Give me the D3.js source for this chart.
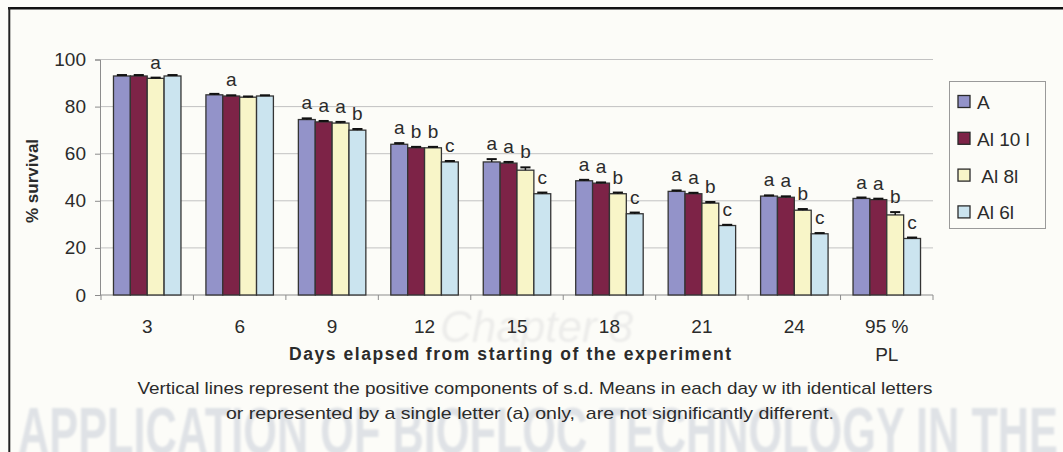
<!DOCTYPE html>
<html>
<head>
<meta charset="utf-8">
<script src="https://cdn.jsdelivr.net/npm/d3@7"></script>
<style>
  html, body { margin: 0; padding: 0; background: #fcfcf8; }
  svg { display: block; }
  text { font-family: "Liberation Sans", Arial, sans-serif; }
</style>
</head>
<body>
<svg id="chart" width="1063" height="452"></svg>
<script>
// Survival (%) of four treatments sampled every three days, plus the 95 % PL stage
const categories = ["3", "6", "9", "12", "15", "18", "21", "24", "95% PL"];
const tickLabels = [["3"], ["6"], ["9"], ["12"], ["15"], ["18"], ["21"], ["24"], ["95 %", "PL"]];
const seriesNames = ["A", "Al 10 l", " Al 8l", "Al 6l"];

const valuesA    = [93, 85, 74.5, 64, 56.5, 48.5, 44, 42, 41];
const valuesAl10 = [93, 84.5, 73.5, 62.5, 56, 47.5, 43, 41.5, 40.5];
const valuesAl8  = [92, 84, 73, 62.5, 53, 43, 39, 36, 34];
const valuesAl6  = [93, 84.5, 70, 56.5, 43, 34.5, 29.5, 26, 24];

// positive component of the standard deviation
const sdA    = [0.4, 0.4, 0.5, 0.5, 1.2, 0.4, 0.4, 0.3, 0.4];
const sdAl10 = [0.4, 0.3, 0.4, 0.4, 0.5, 0.3, 0.4, 0.4, 0.4];
const sdAl8  = [0.3, 0.3, 0.5, 0.4, 1.2, 0.5, 0.5, 0.5, 1.2];
const sdAl6  = [0.4, 0.3, 0.5, 0.4, 0.5, 0.5, 0.3, 0.3, 0.4];

// significance letters per bar ("" = none shown)
const lettersA    = ["", "", "a", "a", "a", "a", "a", "a", "a"];
const lettersAl10 = ["", "a", "a", "b", "a", "a", "a", "a", "a"];
const lettersAl8  = ["a", "", "a", "b", "b", "b", "b", "b", "b"];
const lettersAl6  = ["", "", "b", "c", "c", "c", "c", "c", "c"];

const yTicks = [0, 20, 40, 60, 80, 100];

const xTitle = "Days elapsed from starting of the experiment";
const yTitle = "% survival";
const noteLines = [
  "Vertical lines represent the positive components of s.d. Means in each day w ith identical letters",
  "or represented by a single letter (a) only,  are not significantly different."
];

const fills = ["#9393c9", "#7d2347", "#f8f5c8", "#cbe4ef"];

const series = seriesNames.map((name, i) => ({
  name,
  values: [valuesA, valuesAl10, valuesAl8, valuesAl6][i],
  sd: [sdA, sdAl10, sdAl8, sdAl6][i],
  letters: [lettersA, lettersAl10, lettersAl8, lettersAl6][i],
  fill: fills[i]
}));

const svg = d3.select("#chart");
const ink = "#2b2b2b";

// soft blur for the show-through of the facing page
svg.append("defs").append("filter").attr("id", "soft")
  .append("feGaussianBlur").attr("stdDeviation", 1.3);

svg.append("text")
  .attr("x", 440).attr("y", 342)
  .attr("font-family", "DejaVu Serif, serif")
  .attr("font-style", "italic")
  .attr("font-size", 44)
  .attr("fill", "#ececea")
  .attr("filter", "url(#soft)")
  .text("Chapter 8");
svg.append("text")
  .attr("x", 18).attr("y", 454)
  .attr("font-family", "'DejaVu Sans Condensed', 'Liberation Sans Narrow', sans-serif")
  .attr("font-weight", "bold")
  .attr("font-size", 66)
  .attr("fill", "#dfe2e6")
  .attr("filter", "url(#soft)")
  .attr("textLength", 1040)
  .attr("lengthAdjust", "spacingAndGlyphs")
  .text("APPLICATION OF BIOFLOC TECHNOLOGY IN THE");

// frame around the figure
svg.append("line").attr("x1", 8).attr("x2", 1063).attr("y1", 8.2).attr("y2", 8.2)
  .attr("stroke", "#111").attr("stroke-width", 2.6);
svg.append("line").attr("x1", 9.3).attr("x2", 9.3).attr("y1", 7).attr("y2", 452)
  .attr("stroke", "#222").attr("stroke-width", 2);

// scales
const plotLeft = 100, plotRight = 933;
const x0 = d3.scaleBand().domain(categories).range([plotLeft + 1, plotRight])
  .paddingInner(0.27).paddingOuter(0.135);
const x1 = d3.scaleBand().domain(d3.range(series.length)).range([0, x0.bandwidth()]);
const y = d3.scaleLinear().domain([0, 100]).range([295, 59.5]);

// gridlines
svg.append("g").selectAll("line")
  .data(yTicks.filter(t => t > 0))
  .join("line")
  .attr("x1", plotLeft).attr("x2", plotRight)
  .attr("y1", d => y(d)).attr("y2", d => y(d))
  .attr("stroke", "#c2c2c2").attr("stroke-width", 1);

// y axis
const yAxis = svg.append("g")
  .attr("transform", `translate(${plotLeft},0)`)
  .call(d3.axisLeft(y).tickValues(yTicks).tickSize(5).tickPadding(9));
yAxis.select(".domain").attr("stroke", "#8c8c8c");
yAxis.selectAll(".tick line").attr("stroke", "#8c8c8c");
yAxis.selectAll(".tick text")
  .attr("font-family", "'Liberation Sans', Arial, sans-serif")
  .attr("font-size", 19).attr("fill", ink);

// x axis: baseline with ticks at the category boundaries
const step = x0.step();
const gap = step - x0.bandwidth();
const boundaries = categories.map(c => x0(c) - gap / 2).concat([x0(categories[categories.length - 1]) + x0.bandwidth() + gap / 2]);
const xAxis = svg.append("g");
xAxis.append("line")
  .attr("x1", plotLeft).attr("x2", plotRight)
  .attr("y1", y(0)).attr("y2", y(0))
  .attr("stroke", "#8c8c8c");
xAxis.selectAll(".tk").data(boundaries).join("line").attr("class", "tk")
  .attr("x1", d => d).attr("x2", d => d)
  .attr("y1", y(0)).attr("y2", y(0) + 5)
  .attr("stroke", "#8c8c8c");
xAxis.selectAll(".lbl").data(categories).join("text").attr("class", "lbl")
  .attr("text-anchor", "middle")
  .attr("font-size", 19).attr("fill", ink)
  .each(function (c, i) {
    const t = d3.select(this);
    tickLabels[i].forEach((line, k) => {
      t.append("tspan")
        .attr("x", x0(c) + x0.bandwidth() / 2)
        .attr("y", 333 + k * 28)
        .text(line);
    });
  });

// bars
const groups = svg.append("g").selectAll("g")
  .data(categories)
  .join("g")
  .attr("transform", c => `translate(${x0(c)},0)`);

const cells = groups.selectAll("g")
  .data((c, i) => series.map((s, k) => ({ k, s, v: s.values[i], sd: s.sd[i], letter: s.letters[i] })))
  .join("g");

cells.append("rect")
  .attr("x", d => x1(d.k))
  .attr("y", d => y(d.v))
  .attr("width", x1.bandwidth())
  .attr("height", d => y(0) - y(d.v))
  .attr("fill", d => d.s.fill)
  .attr("stroke", "#343434")
  .attr("stroke-width", 1.3);

// error bars (positive component only)
cells.append("line")
  .attr("x1", d => x1(d.k) + x1.bandwidth() / 2)
  .attr("x2", d => x1(d.k) + x1.bandwidth() / 2)
  .attr("y1", d => y(d.v))
  .attr("y2", d => y(d.v + d.sd))
  .attr("stroke", "#111").attr("stroke-width", 1.5);
cells.append("line")
  .attr("x1", d => x1(d.k) + x1.bandwidth() * 0.2)
  .attr("x2", d => x1(d.k) + x1.bandwidth() * 0.8)
  .attr("y1", d => y(d.v + d.sd))
  .attr("y2", d => y(d.v + d.sd))
  .attr("stroke", "#111").attr("stroke-width", 2);

// significance letters
cells.filter(d => d.letter)
  .append("text")
  .attr("x", d => x1(d.k) + x1.bandwidth() / 2)
  .attr("y", d => y(d.v + d.sd) - 9)
  .attr("text-anchor", "middle")
  .attr("font-size", 19)
  .attr("fill", ink)
  .text(d => d.letter);

// axis titles
svg.append("text")
  .attr("x", 510).attr("y", 360)
  .attr("text-anchor", "middle")
  .attr("font-weight", "bold")
  .attr("font-size", 17.5)
  .attr("fill", ink)
  .attr("textLength", 442).attr("lengthAdjust", "spacing")
  .text(xTitle);

svg.append("text")
  .attr("transform", "translate(38,181) rotate(-90)")
  .attr("text-anchor", "middle")
  .attr("font-weight", "bold")
  .attr("font-size", 17)
  .attr("fill", ink)
  .text(yTitle);

// footnote
svg.append("g").selectAll("text")
  .data(noteLines)
  .join("text")
  .attr("x", (d, i) => i === 0 ? 535 : 530)
  .attr("y", (d, i) => 394 + i * 25)
  .attr("text-anchor", "middle")
  .attr("font-size", 17)
  .attr("fill", ink)
  .attr("textLength", (d, i) => i === 0 ? 795 : 608)
  .attr("lengthAdjust", "spacingAndGlyphs")
  .style("white-space", "pre")
  .text(d => d);

// legend
const legend = svg.append("g");
legend.append("rect")
  .attr("x", 949.5).attr("y", 81.5).attr("width", 96).attr("height", 147)
  .attr("fill", "none").attr("stroke", "#9a9a9a").attr("stroke-width", 1);
const items = legend.selectAll("g")
  .data(series)
  .join("g")
  .attr("transform", (d, i) => `translate(958,${102 + i * 36.8})`);
items.append("rect")
  .attr("x", 0).attr("y", -6.5).attr("width", 12).attr("height", 12)
  .attr("fill", d => d.fill).attr("stroke", "#2a2a2a").attr("stroke-width", 1.3);
items.append("text")
  .attr("x", 19).attr("y", 7)
  .attr("font-size", 19)
  .attr("fill", ink)
  .style("white-space", "pre")
  .text(d => d.name);
</script>
</body>
</html>
